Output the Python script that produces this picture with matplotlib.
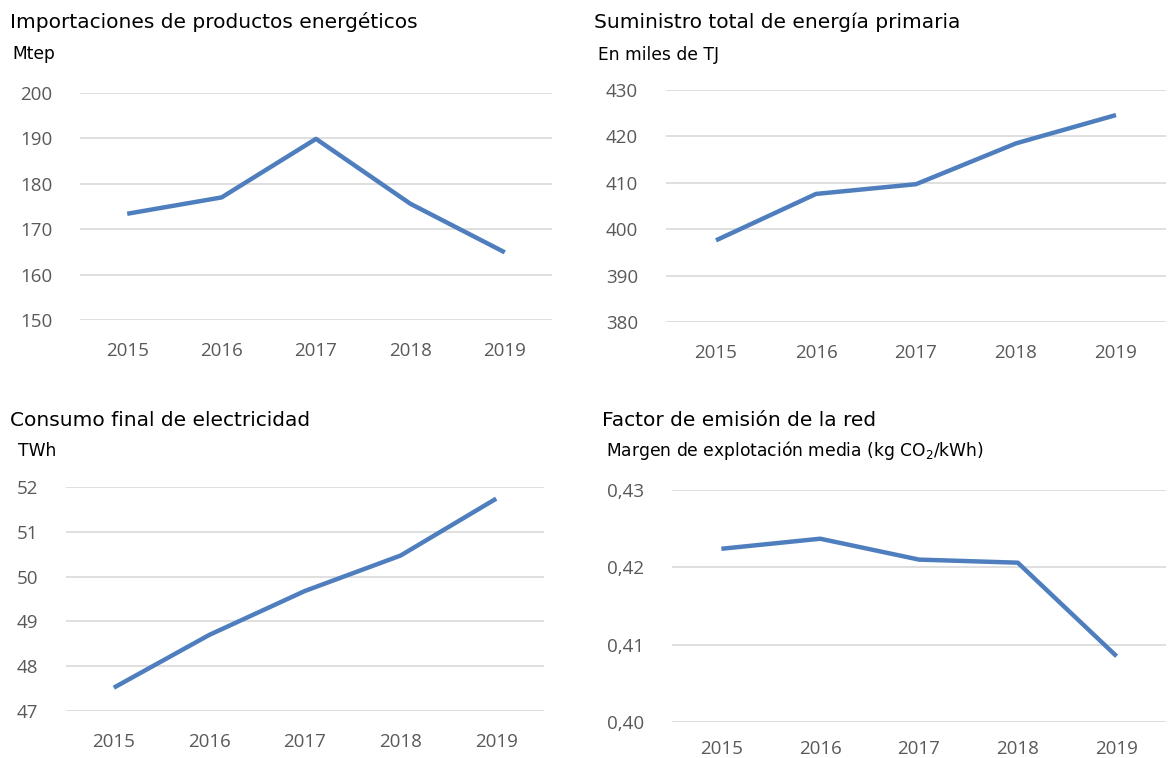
import matplotlib.pyplot as plt
from matplotlib.ticker import FuncFormatter

years = ["2015", "2016", "2017", "2018", "2019"]
imports = [173.4, 177.0, 189.9, 175.6, 164.9]
supply = [397.6, 407.6, 409.7, 418.5, 424.6]
electricity = [47.52, 48.70, 49.68, 50.47, 51.74]
emission = [0.4224, 0.4237, 0.4210, 0.4206, 0.4085]

blue = "#4E7EBE"
grid = "#D9D9D9"
tick_col = "#595959"

fig = plt.figure(figsize=(11.68, 7.58), dpi=100)


def panel(rect, vals, ylim, yticks, title, unit, title_xy, unit_xy, fmt=None, xpad=16):
    ax = fig.add_axes(rect)
    ax.plot(range(len(years)), vals, color=blue, lw=3.2, solid_capstyle="butt")
    ax.set_xlim(-0.5, len(years) - 0.5)
    ax.set_ylim(*ylim)
    ax.set_yticks(yticks)
    ax.set_xticks(range(len(years)))
    ax.set_xticklabels(years)
    if fmt:
        ax.yaxis.set_major_formatter(FuncFormatter(fmt))
    ax.grid(axis="y", color=grid, lw=1.2)
    ax.set_axisbelow(True)
    for s in ax.spines.values():
        s.set_visible(False)
    ax.tick_params(length=0, labelsize=13.5, labelcolor=tick_col)
    ax.tick_params(axis="y", pad=20)
    ax.tick_params(axis="x", pad=xpad)
    for lab in ax.get_xticklabels() + ax.get_yticklabels():
        lab.set_fontfamily("Open Sans")
    fig.text(title_xy[0] / 1168, 1 - title_xy[1] / 758, title, fontsize=14.5,
             va="center", ha="left", color="black")
    fig.text(unit_xy[0] / 1168, 1 - unit_xy[1] / 758, unit, fontsize=12.3,
             va="center", ha="left", color="black")
    return ax


panel([80 / 1168, 1 - 320 / 758, 472 / 1168, 227 / 758], imports, (150, 200),
      range(150, 201, 10), "Importaciones de productos energéticos", "Mtep",
      (10, 22), (12, 54))
panel([666 / 1168, 1 - 322 / 758, 500 / 1168, 232 / 758], supply, (380, 430),
      range(380, 431, 10), "Suministro total de energía primaria", "En miles de TJ",
      (594, 22), (598, 55))
panel([66 / 1168, 1 - 711 / 758, 478 / 1168, 224 / 758], electricity, (47, 52),
      range(47, 53), "Consumo final de electricidad", "TWh",
      (10, 421), (18, 451))
panel([672 / 1168, 1 - 722 / 758, 494 / 1168, 232 / 758], emission, (0.40, 0.43),
      [0.40, 0.41, 0.42, 0.43], "Factor de emisión de la red",
      "Margen de explotación media (kg CO$_2$/kWh)",
      (602, 420), (606, 451), fmt=lambda v, p: f"{v:.2f}".replace(".", ","), xpad=13)

fig.savefig("out.png", dpi=100)
